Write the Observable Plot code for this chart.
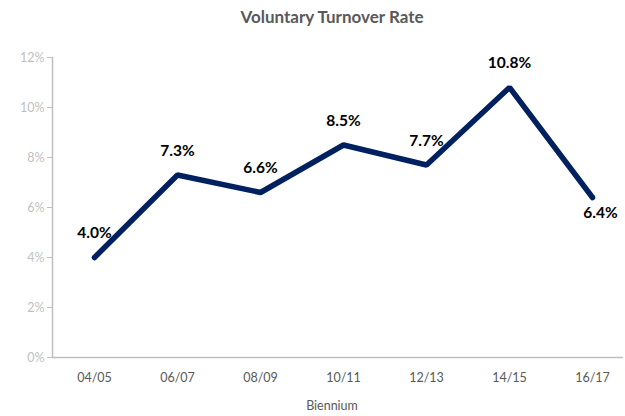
<!DOCTYPE html>
<html>
<head>
<meta charset="utf-8">
<script src="https://cdn.jsdelivr.net/npm/d3@7"></script>
<script src="https://cdn.jsdelivr.net/npm/@observablehq/plot@0.6"></script>
<style>
  body { margin: 0; background: #fff; }
  #chart { width: 625px; height: 416px; position: relative; font-family: Lato, "Open Sans", sans-serif; }
  #title { position: absolute; left: 0; width: 664px; top: 6px; text-align: center; font-size: 17px; font-weight: bold; color: #595959; }
  #xlabel { position: absolute; left: 0; width: 664px; top: 398px; text-align: center; font-size: 12.5px; color: #595959; }
  svg { position: absolute; left: 0; top: 0; }
</style>
</head>
<body>
<div id="chart">
  <div id="title">Voluntary Turnover Rate</div>
  <div id="xlabel">Biennium</div>
</div>
<script>
const categories = ["04/05", "06/07", "08/09", "10/11", "12/13", "14/15", "16/17"];
const rates = [4.0, 7.3, 6.6, 8.5, 7.7, 10.8, 6.4];
const yTicks = [0, 2, 4, 6, 8, 10, 12];

const data = categories.map((c, i) => ({ cat: c, rate: rates[i] }));
const last = data.length - 1;

const plot = Plot.plot({
  width: 625,
  height: 396,
  marginTop: 57,
  marginBottom: 39,
  marginLeft: 52,
  marginRight: 2,
  style: { fontFamily: "Lato, 'Open Sans', sans-serif", background: "transparent" },
  x: { type: "point", domain: categories, range: [93, 592], padding: 0, align: 0.5, label: null },
  y: { domain: [0, 12], label: null },
  marks: [
    Plot.frame({ anchor: "left", stroke: "#bfbfbf", strokeWidth: 1.5 }),
    Plot.ruleY([0], { stroke: "#bfbfbf", strokeWidth: 1.5 }),
    Plot.axisY(yTicks, { tickFormat: d => d + "%", tickSize: 5, tickPadding: 3, stroke: "#bfbfbf", color: "#bfbfbf", fontSize: 12.5 }),
    Plot.axisX(categories, { tickSize: 0, tickPadding: 16, color: "#595959", fontSize: 12.5 }),
    Plot.line(data, { x: "cat", y: "rate", stroke: "#002060", strokeWidth: 5.5, strokeLinecap: "round", strokeLinejoin: "miter" }),
    Plot.text(data.filter((d, i) => i !== last), { x: "cat", y: "rate", text: d => d.rate.toFixed(1) + "%", dy: -24, fontSize: 15.5, fontWeight: "bold", fill: "#000" }),
    Plot.text(data.filter((d, i) => i === last), { x: "cat", y: "rate", text: d => d.rate.toFixed(1) + "%", dy: 16, dx: 8, fontSize: 15.5, fontWeight: "bold", fill: "#000" })
  ]
});
document.getElementById("chart").appendChild(plot);
</script>
</body>
</html>
